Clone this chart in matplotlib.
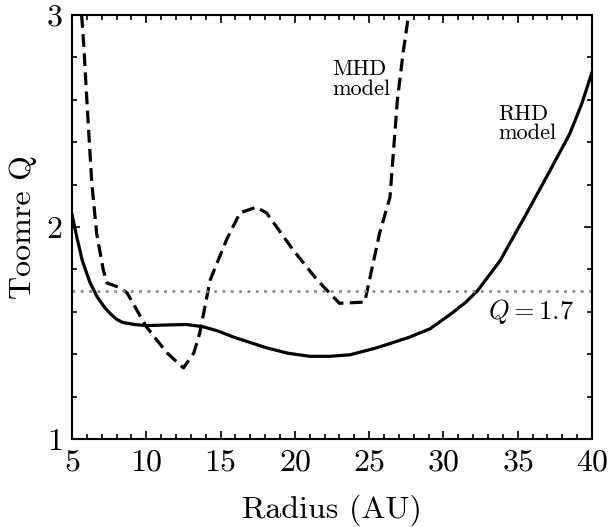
import matplotlib
matplotlib.use("Agg")
import matplotlib.pyplot as plt
from matplotlib.ticker import MultipleLocator

plt.rcParams["font.family"] = "cmr10"
plt.rcParams["mathtext.fontset"] = "cm"
plt.rcParams["axes.unicode_minus"] = False
plt.rcParams["axes.formatter.use_mathtext"] = True

# RHD model (solid)
rhd_r = [5.0, 5.3, 5.7, 6.2, 6.7, 7.2, 7.6, 8.0, 8.4, 9.2, 10.0, 11.5, 12.7,
         13.8, 14.8, 15.9, 17.0, 18.1, 19.5, 21.0, 22.3, 23.7, 25.5, 27.7,
         29.1, 30.6, 31.5, 32.3, 33.8, 35.6, 37.2, 38.5, 39.3, 40.0]
rhd_q = [2.06, 1.96, 1.84, 1.74, 1.67, 1.62, 1.59, 1.565, 1.55, 1.54, 1.535,
         1.538, 1.54, 1.53, 1.51, 1.48, 1.455, 1.43, 1.405, 1.39, 1.39,
         1.397, 1.43, 1.48, 1.52, 1.595, 1.645, 1.70, 1.84, 2.065, 2.27,
         2.44, 2.58, 2.73]

# MHD model (dashed)
mhd_r = [5.65, 5.8, 6.0, 6.33, 6.66, 7.1, 7.35, 8.1, 8.7, 10.0, 11.4, 12.5,
         13.2, 13.6, 14.3, 15.4, 16.3, 17.4, 18.1, 19.9, 21.5, 23.0, 24.7,
         25.7, 26.4, 26.9, 27.3, 27.65]
mhd_q = [3.0, 2.85, 2.6, 2.21, 1.97, 1.80, 1.736, 1.717, 1.69, 1.53, 1.406,
         1.335, 1.406, 1.50, 1.75, 1.94, 2.066, 2.094, 2.066, 1.89, 1.75,
         1.64, 1.646, 1.97, 2.14, 2.6, 2.83, 3.0]

q_crit = 1.7

fig = plt.figure(figsize=(6.11, 5.27), dpi=100)
ax = fig.add_axes([0.1178, 0.167, 0.8512, 0.8045])

ax.plot(rhd_r, rhd_q, color="black", linewidth=2.3)
ax.plot(mhd_r, mhd_q, color="black", linewidth=2.3, linestyle=(0, (4, 2)))
ax.axhline(q_crit, color="#8c8c8c", linewidth=2, linestyle=(0, (1, 2)))

ax.text(22.5, 2.79, "MHD\nmodel", fontsize=16, va="top", ha="left",
        linespacing=1.0)
ax.text(33.7, 2.58, "RHD\nmodel", fontsize=16, va="top", ha="left",
        linespacing=1.0)
ax.text(33.0, 1.60, r"$Q = 1.7$", fontsize=19, va="center", ha="left")

ax.set_xlim(5, 40)
ax.set_ylim(1, 3)
ax.xaxis.set_major_locator(MultipleLocator(5))
ax.xaxis.set_minor_locator(MultipleLocator(1))
ax.yaxis.set_major_locator(MultipleLocator(1))
ax.yaxis.set_minor_locator(MultipleLocator(0.2))
ax.tick_params(which="both", direction="in", top=True, right=True,
               labelsize=23, width=1.2)
ax.tick_params(which="major", length=6, pad=7)
ax.tick_params(which="minor", length=3.5)
for s in ax.spines.values():
    s.set_linewidth(1.5)

ax.set_xlabel("Radius (AU)", fontsize=23, labelpad=13)
ax.set_ylabel("Toomre Q", fontsize=23, labelpad=6)

fig.savefig("out.png", dpi=100)
